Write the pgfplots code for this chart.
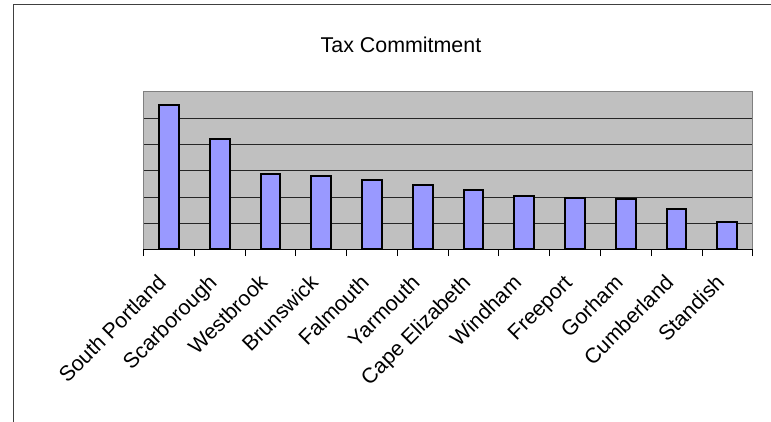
\documentclass[border=0pt]{standalone}
\usepackage{fontspec}
\setmainfont{Liberation Sans}
\usepackage{pgfplots}
\pgfplotsset{compat=1.18}
\definecolor{plotbg}{HTML}{C0C0C0}
\definecolor{barfill}{HTML}{9999FF}
\definecolor{framegray}{HTML}{808080}
\definecolor{outer}{HTML}{404040}
\begin{document}
\begin{tikzpicture}
\path[use as bounding box] (0,0) rectangle (771pt,422pt);
\draw[outer, line width=1pt] (13pt,0) -- (13pt,417.3pt) -- (771pt,417.3pt);
\node[font=\fontsize{21.4}{25}\selectfont, inner sep=0pt] at (401pt,377pt) {Tax Commitment};
\begin{axis}[
  at={(143.5pt,172.5pt)}, anchor=south west,
  scale only axis, width=609.2pt, height=157.5pt,
  xmin=-0.5, xmax=11.5, ymin=0, ymax=6,
  axis background/.style={fill=plotbg},
  axis line style={draw=framegray, line width=1pt},
  xtick={0,...,11},
  xticklabels={South Portland,Scarborough,Westbrook,Brunswick,Falmouth,Yarmouth,Cape Elizabeth,Windham,Freeport,Gorham,Cumberland,Standish},
  xticklabel style={anchor=south east, rotate=45, inner sep=0pt, text height=0.75em, text depth=0.2em, font=\fontsize{21.3}{25}\selectfont},
  xticklabel shift=36pt,
  xtick pos=lower, ytick pos=left,
  major tick length=0pt,
  tick align=outside,
  extra x ticks={-0.5,0.5,...,11.5},
  extra x tick labels={},
  extra x tick style={grid=none, major tick length=6.7pt, tick style={black, line width=0.8pt}},
  ytick={1,...,5},
  yticklabels={},
  ymajorgrids,
  y grid style={black!85, line width=0.8pt},
  extra y ticks={0},
  extra y tick labels={},
  extra y tick style={grid=major, y grid style={black, line width=1pt}},
  ybar, bar width=19.7pt,
]
\addplot[fill=barfill, draw=black, line width=2pt] coordinates {
(0,5.50) (1,4.20) (2,2.89) (3,2.79) (4,2.66) (5,2.45) (6,2.27) (7,2.04) (8,1.95) (9,1.91) (10,1.54) (11,1.05)
};
\end{axis}
\end{tikzpicture}
\end{document}
